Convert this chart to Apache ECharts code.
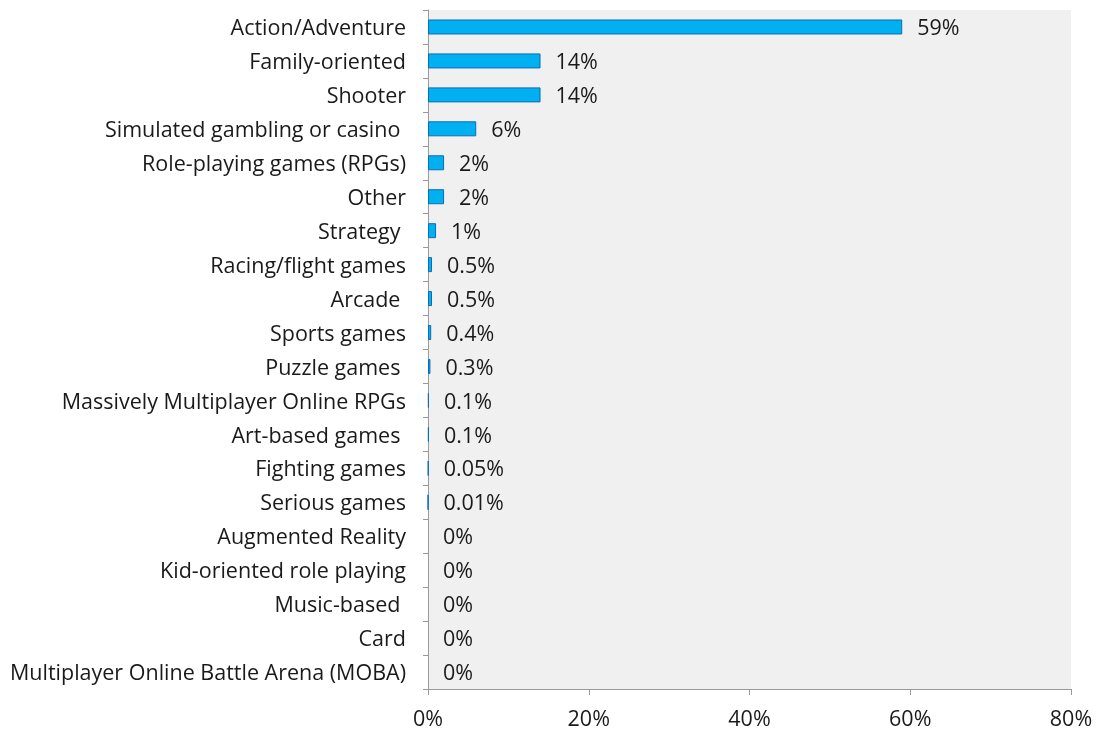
<!DOCTYPE html>
<html>
<head>
<meta charset="utf-8">
<script src="https://cdn.jsdelivr.net/npm/echarts@6/dist/echarts.min.js"></script>
<style>
  html, body { margin: 0; padding: 0; background: #ffffff; }
  #chart { width: 1096px; height: 731px; }
</style>
</head>
<body>
<div id="chart"></div>
<script>
// Game genres, listed top to bottom
const genres = [
  "Action/Adventure",
  "Family-oriented",
  "Shooter",
  "Simulated gambling or casino ",
  "Role-playing games (RPGs)",
  "Other",
  "Strategy ",
  "Racing/flight games",
  "Arcade ",
  "Sports games",
  "Puzzle games ",
  "Massively Multiplayer Online RPGs",
  "Art-based games ",
  "Fighting games",
  "Serious games",
  "Augmented Reality",
  "Kid-oriented role playing",
  "Music-based ",
  "Card",
  "Multiplayer Online Battle Arena (MOBA)"
];

// Share of each genre, in percent
const shares = [59, 14, 14, 6, 2, 2, 1, 0.5, 0.5, 0.4, 0.3, 0.1, 0.1, 0.05, 0.01, 0, 0, 0, 0, 0];

// Value axis ticks
const xTicks = [0, 20, 40, 60, 80];

const FONT = "Open Sans";
const FS = 21.5;
const chart = echarts.init(document.getElementById("chart"));

// zero-valued bars draw no outline
const barData = shares.map(v => ({
  value: v,
  itemStyle: v === 0 ? { borderWidth: 0 } : undefined
}));

chart.setOption({
  animation: false,
  grid: {
    left: 428, right: 25, top: 10, bottom: 41,
    show: true, backgroundColor: "#f0f0f0", borderWidth: 0
  },
  xAxis: {
    type: "value",
    min: xTicks[0],
    max: xTicks[xTicks.length - 1],
    interval: xTicks[1] - xTicks[0],
    axisLine: { show: true, lineStyle: { color: "#9a9a9a", width: 1 } },
    axisTick: { show: true, length: 6, lineStyle: { color: "#9a9a9a" } },
    splitLine: { show: false },
    axisLabel: {
      formatter: v => v + "%",
      color: "#1a1a1a", fontFamily: FONT, fontSize: FS, margin: 20
    }
  },
  yAxis: {
    type: "category",
    data: genres,
    inverse: true,
    axisLine: { show: true, lineStyle: { color: "#9a9a9a", width: 1 } },
    axisTick: { show: true, length: 5, lineStyle: { color: "#9a9a9a" } },
    axisLabel: {
      color: "#1a1a1a", fontFamily: FONT, fontSize: FS, margin: 22,
      verticalAlign: "top", lineHeight: 4
    }
  },
  series: [{
    type: "bar",
    data: barData,
    barWidth: 15,
    itemStyle: { color: "#00b0f0", borderColor: "#0a6db5", borderWidth: 1 },
    label: {
      show: true,
      position: "right",
      distance: 15,
      offset: [0, 2],
      formatter: p => p.value + "%",
      color: "#1a1a1a", fontFamily: FONT, fontSize: FS
    }
  }]
});
</script>
</body>
</html>
